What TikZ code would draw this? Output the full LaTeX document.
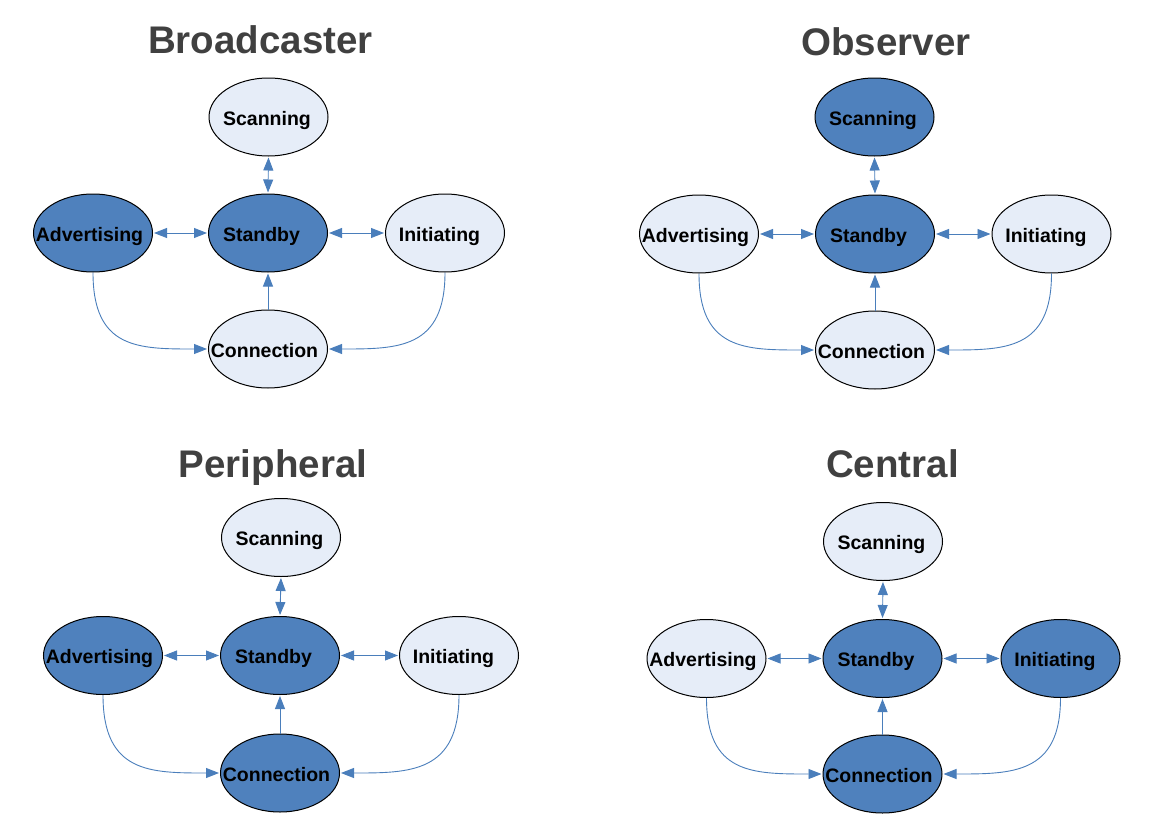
\documentclass[tikz,border=0pt]{standalone}
\usepackage{fontspec}
\setmainfont{Liberation Sans}
\usetikzlibrary{arrows.meta,shapes.geometric}
\definecolor{darkfill}{HTML}{4F81BD}
\definecolor{lightfill}{HTML}{E6EDF8}
\definecolor{linkcol}{HTML}{4A7EBB}
\definecolor{titlecol}{HTML}{404040}
\newcommand\lb[2]{\makebox[0pt]{\kern#1pt #2}}
\newcommand\stateedges[1]{%
  \draw[dbl] (#1-sc.south) -- (#1-st.north);
  \draw[dbl] (#1-ad.east) -- (#1-st.west);
  \draw[dbl] (#1-st.east) -- (#1-in.west);
  \draw[one] (#1-co.north) -- (#1-st.south);
  \draw[one] (#1-ad.south) .. controls (#1-ad.south |- #1-co.west) and ([xshift=-70pt]#1-co.west) .. (#1-co.west);
  \draw[one] (#1-in.south) .. controls (#1-in.south |- #1-co.east) and ([xshift=70pt]#1-co.east) .. (#1-co.east);
}
\tikzset{
  st/.style={ellipse, draw=black, line width=1pt, minimum width=119pt, minimum height=78pt,
    inner sep=0pt, font=\fontsize{19.5}{19.5}\selectfont\bfseries, text height=16pt, text depth=0pt},
  dk/.style={st, fill=darkfill},
  lt/.style={st, fill=lightfill},
  ttl/.style={anchor=base, inner sep=0pt, text=titlecol, font=\fontsize{38.5}{40}\selectfont\bfseries},
  one/.style={draw=linkcol, line width=0.9pt, shorten >=1pt, -{Triangle[length=13pt,width=10pt]}},
  dbl/.style={one, shorten <=1pt, {Triangle[length=13pt,width=10pt]}-{Triangle[length=13pt,width=10pt]}},
}
\begin{document}
\begin{tikzpicture}[x=1pt,y=-1pt]
\useasboundingbox (0,0) rectangle (1160,827);
% Broadcaster
\node[ttl] (b-t) at (260.5,53) {Broadcaster};
\node[lt] (b-sc) at (268.5,117) {\lb{-3}{Scanning}};
\node[dk] (b-st) at (268,233) {\lb{-13}{Standby}};
\node[dk] (b-ad) at (93,233) {\lb{-7}{Advertising}};
\node[lt] (b-in) at (445,233) {\lb{-11}{Initiating}};
\node[lt] (b-co) at (268,349) {\lb{-7}{Connection}};
\stateedges{b}
% Observer
\node[ttl] (o-t) at (886,55) {Observer};
\node[dk] (o-sc) at (874.5,117) {\lb{-3}{Scanning}};
\node[dk] (o-st) at (875,234) {\lb{-13}{Standby}};
\node[lt] (o-ad) at (699,234) {\lb{-7}{Advertising}};
\node[lt] (o-in) at (1051.5,234) {\lb{-11}{Initiating}};
\node[lt] (o-co) at (875,350) {\lb{-7}{Connection}};
\stateedges{o}
% Peripheral
\node[ttl] (p-t) at (273,477) {Peripheral};
\node[lt] (p-sc) at (281,537.5) {\lb{-3}{Scanning}};
\node[dk] (p-st) at (280,655.5) {\lb{-13}{Standby}};
\node[dk] (p-ad) at (103,655.5) {\lb{-7}{Advertising}};
\node[lt] (p-in) at (459,655.5) {\lb{-11}{Initiating}};
\node[dk] (p-co) at (280,773) {\lb{-7}{Connection}};
\stateedges{p}
% Central
\node[ttl] (c-t) at (892.5,477) {Central};
\node[lt] (c-sc) at (883,541.5) {\lb{-3}{Scanning}};
\node[dk] (c-st) at (882.5,658.5) {\lb{-13}{Standby}};
\node[lt] (c-ad) at (706.5,658.5) {\lb{-7}{Advertising}};
\node[dk] (c-in) at (1060.5,658.5) {\lb{-11}{Initiating}};
\node[dk] (c-co) at (882.5,774) {\lb{-7}{Connection}};
\stateedges{c}
\end{tikzpicture}
\end{document}
